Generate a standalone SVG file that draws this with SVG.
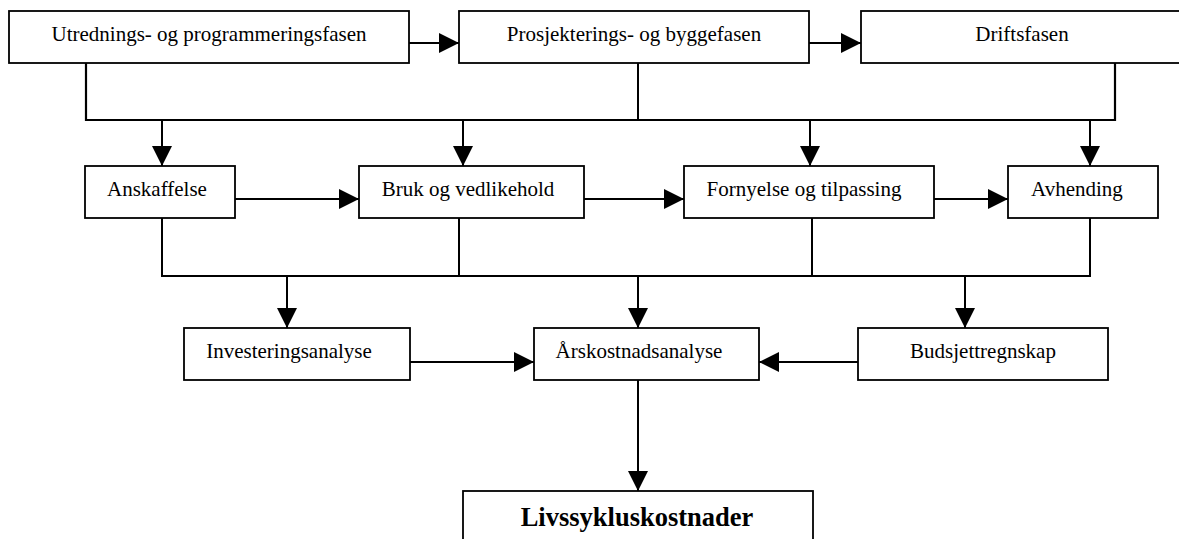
<svg xmlns="http://www.w3.org/2000/svg" width="1179" height="539" viewBox="0 0 1179 539">
  <style>
    .box { fill: #fff; stroke: #000; stroke-width: 1.8; }
    .lbl { font-family: "Liberation Serif", "Times New Roman", serif; font-size: 21px; fill: #000; text-anchor: middle; }
    .big { font-family: "Liberation Serif", "Times New Roman", serif; font-size: 26.5px; font-weight: bold; fill: #000; text-anchor: middle; }
    .ln { fill: none; stroke: #000; stroke-width: 2; }
    .arr { fill: none; stroke: #000; stroke-width: 2; marker-end: url(#ah); }
  </style>
  <defs>
    <marker id="ah" markerWidth="20" markerHeight="20" refX="20" refY="10" orient="auto" markerUnits="userSpaceOnUse">
      <path d="M0,0 L20,10 L0,20 z" fill="#000"/>
    </marker>
  </defs>
  <rect width="1179" height="539" fill="#fff"/>

  <g id="connectors">
    <polyline class="ln" points="86,63 86,120 1115,120 1115,63" style="stroke-width:2.2"/>
    <line class="ln" x1="638" y1="63" x2="638" y2="120"/>
    <line class="arr" x1="409" y1="43" x2="459" y2="43"/>
    <line class="arr" x1="809" y1="43" x2="861" y2="43"/>
    <line class="arr" x1="162" y1="120" x2="162" y2="166"/>
    <line class="arr" x1="463" y1="120" x2="463" y2="166"/>
    <line class="arr" x1="810" y1="120" x2="810" y2="166"/>
    <line class="arr" x1="1090" y1="120" x2="1090" y2="166"/>
    <line class="arr" x1="235" y1="199" x2="359" y2="199"/>
    <line class="arr" x1="584" y1="199" x2="684" y2="199"/>
    <line class="arr" x1="934" y1="199" x2="1008" y2="199"/>
    <polyline class="ln" points="162,218 162,276 1090,276 1090,218"/>
    <line class="ln" x1="459" y1="218" x2="459" y2="276"/>
    <line class="ln" x1="812" y1="218" x2="812" y2="276"/>
    <line class="arr" x1="287" y1="276" x2="287" y2="328"/>
    <line class="arr" x1="638" y1="276" x2="638" y2="328"/>
    <line class="arr" x1="965" y1="276" x2="965" y2="328"/>
    <line class="arr" x1="410" y1="362" x2="534" y2="362"/>
    <line class="arr" x1="858" y1="362" x2="759" y2="362"/>
    <line class="arr" x1="638" y1="380" x2="638" y2="491"/>
  </g>

  <g id="n-utredning">
    <rect class="box" x="9" y="11" width="400" height="52"/>
    <text class="lbl" x="209" y="41">Utrednings- og programmeringsfasen</text>
  </g>
  <g id="n-prosjektering">
    <rect class="box" x="459" y="11" width="350" height="52"/>
    <text class="lbl" x="634" y="41">Prosjekterings- og byggefasen</text>
  </g>
  <g id="n-drift">
    <rect class="box" x="861" y="11" width="330" height="52"/>
    <text class="lbl" x="1022" y="41">Driftsfasen</text>
  </g>

  <g id="n-anskaffelse">
    <rect class="box" x="85" y="166" width="150" height="52"/>
    <text class="lbl" x="157" y="196">Anskaffelse</text>
  </g>
  <g id="n-bruk">
    <rect class="box" x="359" y="166" width="225" height="52"/>
    <text class="lbl" x="468" y="196">Bruk og vedlikehold</text>
  </g>
  <g id="n-fornyelse">
    <rect class="box" x="684" y="166" width="250" height="52"/>
    <text class="lbl" x="804" y="196">Fornyelse og tilpassing</text>
  </g>
  <g id="n-avhending">
    <rect class="box" x="1008" y="166" width="150" height="52"/>
    <text class="lbl" x="1077" y="196">Avhending</text>
  </g>

  <g id="n-investering">
    <rect class="box" x="184" y="328" width="226" height="52"/>
    <text class="lbl" x="289" y="358">Investeringsanalyse</text>
  </g>
  <g id="n-arskostnad">
    <rect class="box" x="534" y="328" width="225" height="52"/>
    <text class="lbl" x="639" y="358">Årskostnadsanalyse</text>
  </g>
  <g id="n-budsjett">
    <rect class="box" x="858" y="328" width="250" height="52"/>
    <text class="lbl" x="983" y="358">Budsjettregnskap</text>
  </g>

  <g id="n-livssyklus">
    <rect class="box" x="463" y="491" width="350" height="60"/>
    <text class="big" x="637" y="526">Livssykluskostnader</text>
  </g>
</svg>
